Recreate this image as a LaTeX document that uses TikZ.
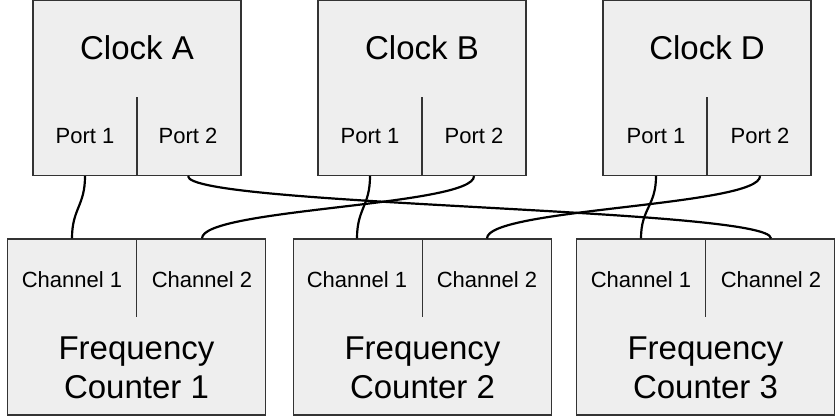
\documentclass[tikz,border=0pt]{standalone}
\usepackage{fontspec}
\setmainfont{Liberation Sans}
\definecolor{boxgray}{HTML}{EEEEEE}
\definecolor{edgegray}{HTML}{333333}
\tikzset{
	unit/.style={draw=edgegray,fill=boxgray,line width=1.2pt,inner sep=0pt},
	clockbox/.style={unit,minimum width=208pt,minimum height=175pt},
	counterbox/.style={unit,minimum width=258pt,minimum height=176pt},
	bigtext/.style={font=\fontsize{33}{39}\selectfont,align=center},
	smalltext/.style={font=\fontsize{22}{26}\selectfont},
	divider/.style={draw=edgegray,line width=1.2pt},
	wire/.style={draw=black,line width=2.2pt},
}

\begin{document}
\begin{tikzpicture}[x=1pt,y=-1pt]
				\useasboundingbox (0,0) rectangle (835,419);
				% clocks
				\node[clockbox] (clkA) at (137,88) {};
				\draw[divider] (clkA.south) -- ++(0,-79);
				\node[bigtext] (nameA) at (137,48) {Clock A};
				\node[smalltext] (pA1) at (85,136) {Port 1};
				\node[smalltext] (pA2) at (188,136) {Port 2};
				\node[clockbox] (clkB) at (422,88) {};
				\draw[divider] (clkB.south) -- ++(0,-79);
				\node[bigtext] (nameB) at (422,48) {Clock B};
				\node[smalltext] (pB1) at (370,136) {Port 1};
				\node[smalltext] (pB2) at (474,136) {Port 2};
				\node[clockbox] (clkD) at (707,88) {};
				\draw[divider] (clkD.south) -- ++(0,-79);
				\node[bigtext] (nameD) at (707,48) {Clock D};
				\node[smalltext] (pD1) at (656,136) {Port 1};
				\node[smalltext] (pD2) at (760,136) {Port 2};
				% counters
				\node[counterbox] (fc1) at (136.5,327) {};
				\draw[divider] (fc1.north) -- ++(0,79);
				\node[smalltext] (ch11) at (72,280) {Channel 1};
				\node[smalltext] (ch12) at (202,280) {Channel 2};
				\node[bigtext] (name1) at (136.5,368) {Frequency\\Counter 1};
				\node[counterbox] (fc2) at (422.5,327) {};
				\draw[divider] (fc2.north) -- ++(0,79);
				\node[smalltext] (ch21) at (357,280) {Channel 1};
				\node[smalltext] (ch22) at (487,280) {Channel 2};
				\node[bigtext] (name2) at (422.5,368) {Frequency\\Counter 2};
				\node[counterbox] (fc3) at (705.5,327) {};
				\draw[divider] (fc3.north) -- ++(0,79);
				\node[smalltext] (ch31) at (641,280) {Channel 1};
				\node[smalltext] (ch32) at (771,280) {Channel 2};
				\node[bigtext] (name3) at (705.5,368) {Frequency\\Counter 3};
				% cables
				\draw[wire] (pA1 |- clkA.south) .. controls +(0,30) and +(0,-30) .. (ch11 |- fc1.north);
				\draw[wire] (pA2 |- clkA.south) .. controls +(0,30) and +(0,-30) .. (ch32 |- fc3.north);
				\draw[wire] (pB1 |- clkB.south) .. controls +(0,30) and +(0,-30) .. (ch21 |- fc2.north);
				\draw[wire] (pB2 |- clkB.south) .. controls +(0,30) and +(0,-30) .. (ch12 |- fc1.north);
				\draw[wire] (pD1 |- clkD.south) .. controls +(0,30) and +(0,-30) .. (ch31 |- fc3.north);
				\draw[wire] (pD2 |- clkD.south) .. controls +(0,30) and +(0,-30) .. (ch22 |- fc2.north);
			\end{tikzpicture}
\end{document}
